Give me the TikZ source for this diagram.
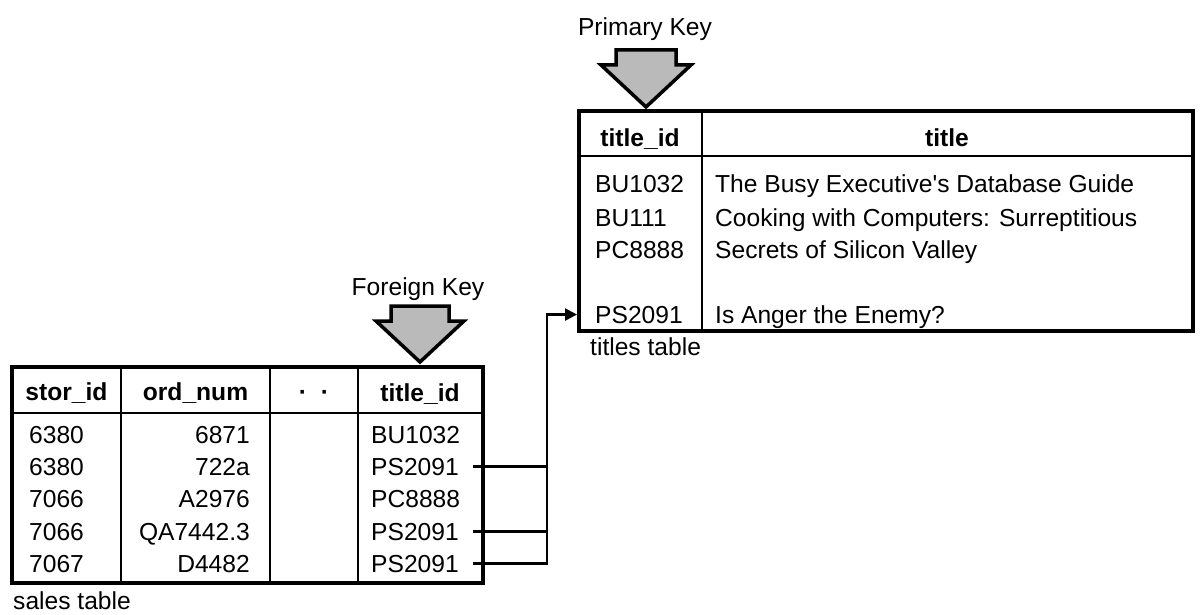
\documentclass[tikz,border=0pt]{standalone}
\usepackage{fontspec}
\setmainfont{Liberation Sans}
\usepackage{tikz}
\usetikzlibrary{arrows.meta}
\tikzset{
  tblbox/.style={draw=black, line width=4pt, inner sep=0pt},
  tblline/.style={draw=black, line width=2.8pt},
  idcell/.style={inner sep=0pt, anchor=base west},
  numcell/.style={inner sep=0pt, anchor=base east},
  headcell/.style={inner sep=0pt, anchor=base, font=\bfseries},
  keylabel/.style={inner sep=0pt, anchor=base},
  keyarrow/.style={draw=black, line width=3.5pt, fill=black!27, line join=miter},
  fklink/.style={draw=black, line width=2.4pt}
}

\begin{document}
\fontsize{24.6pt}{29pt}\selectfont
\begin{tikzpicture}[x=1pt, y=-1pt]
\useasboundingbox (0,0) rectangle (1200,615);
% sales table
\node[tblbox, minimum width=471pt, minimum height=216pt] (sales) at (247.5,475) {};
\draw[tblline] (12,413) -- (483,413);
\draw[tblline] (121,367) -- (121,583); \draw[tblline] (270,367) -- (270,583); \draw[tblline] (358,367) -- (358,583);
\node[headcell] (h1) at (66.5,400) {stor\_id};
\node[headcell] (h2) at (195.5,400) {ord\_num};
\node[headcell] (h3) at (314,400) {·\hspace{14pt}·};
\node[headcell] (h4) at (420,401) {title\_id};
\node[idcell] (c1) at (29,443) {6380};   \node[numcell] (n1) at (250,443) {6871};     \node[idcell] (s1) at (371,443) {BU1032};
\node[idcell] (c2) at (29,475) {6380};   \node[numcell] (n2) at (250,475) {722a};     \node[idcell] (s2) at (371,475) {PS2091};
\node[idcell] (c3) at (29,507.5) {7066}; \node[numcell] (n3) at (250,507.5) {A2976};  \node[idcell] (s3) at (371,507.5) {PC8888};
\node[idcell] (c4) at (29,540) {7066};   \node[numcell] (n4) at (250,540) {QA7442.3}; \node[idcell] (s4) at (371,540) {PS2091};
\node[idcell] (c5) at (29,572) {7067};   \node[numcell] (n5) at (250,572) {D4482};    \node[idcell] (s5) at (371,572) {PS2091};
\node[idcell] (slabel) at (13,609) {sales table};
% titles table
\node[tblbox, minimum width=614pt, minimum height=220pt] (titles) at (886,221) {};
\draw[tblline] (579,156) -- (1193,156);
\draw[tblline] (702,111) -- (702,331);
\node[headcell] (g1) at (640,147) {title\_id};
\node[headcell] (g2) at (947,147) {title};
\node[idcell] (t1) at (595,193) {BU1032}; \node[idcell] (b1) at (715,193) {The Busy Executive\textquotesingle s Database Guide};
\node[idcell] (t2) at (595,226) {BU111};  \node[idcell] (b2) at (715,226) {Cooking with Computers: Surreptitious};
\node[idcell] (t3) at (595,258) {PC8888}; \node[idcell] (b3) at (715,258) {Secrets of Silicon Valley};
\node[idcell] (t4) at (595,323) {PS2091}; \node[idcell] (b4) at (715,323) {Is Anger the Enemy?};
\node[idcell] (tlabel) at (590,355) {titles table};
% key pointers
\node[keylabel] (fklabel) at (418,295) {Foreign Key};
\node[keylabel] (pklabel) at (645,36) {Primary Key};
\coordinate (fk) at (420,362);
\coordinate (pk) at (646,107);
\draw[keyarrow, shift={(fk)}] (-29,-56) -- (29,-56) -- (29,-41) -- (44,-41) -- (0,0) -- (-44,-41) -- (-29,-41) -- cycle;
\draw[keyarrow, shift={(pk)}] (-30,-57) -- (30,-57) -- (30,-42) -- (45,-42) -- (0,0) -- (-45,-42) -- (-30,-42) -- cycle;
% links
\coordinate (bus) at (547,0);
\draw[fklink] ([xshift=14pt]s2.east) -- (s2 -| bus);
\draw[fklink] ([xshift=14pt]s4.east) -- (s4 -| bus);
\draw[fklink, -{Triangle[length=12pt,width=12pt]}] ([xshift=14pt]s5.east) -| (bus |- t4) -- (titles.west |- t4);
\end{tikzpicture}
\end{document}
